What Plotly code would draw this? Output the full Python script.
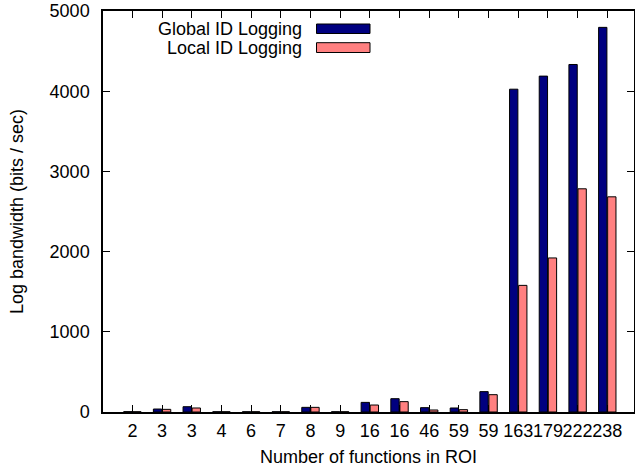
import plotly.graph_objects as go

categories = ["2", "3", "3", "4", "6", "7", "8", "9", "16", "16", "46", "59", "59", "163", "179", "222", "238"]
global_vals = [4, 37, 66, 3, 3, 3, 58, 3, 120, 166, 54, 50, 254, 4025, 4188, 4333, 4796]
local_vals = [3, 33, 50, 3, 3, 3, 58, 3, 87, 129, 25, 29, 216, 1579, 1921, 2783, 2683]
series_names = ["Global ID Logging", "Local ID Logging"]
series_colors = ["#000080", "#ff8080"]
y_ticks = [0, 1000, 2000, 3000, 4000, 5000]

W, H = 635, 472
# target plot area in page pixels: x 103..634, y 11..412
L = 103
T = 11
R = W - 634
B = H - 412
FONT = "Liberation Sans, Arial, Helvetica, sans-serif"
FS = 18

idx = list(range(len(categories)))

fig = go.Figure()
for name, vals, col in zip(series_names, [global_vals, local_vals], series_colors):
    fig.add_trace(go.Bar(
        x=idx, y=vals, name=name,
        marker=dict(color=col, line=dict(color="black", width=1)),
        showlegend=False,
    ))

pw = W - L - R
ph = H - T - B
def px(xp):
    return (xp - L) / pw
def py(yp):
    return (H - B - yp) / ph

# custom gnuplot-style key: right-aligned text with swatch on its right
rows = [(29.5, 24.0, 33.5), (47.5, 42.7, 52.5)]
for (name, col), (yc, y0, y1) in zip(zip(series_names, series_colors), rows):
    fig.add_annotation(
        x=px(304), y=py(yc), xref="paper", yref="paper",
        text=name, showarrow=False, xanchor="right", yanchor="middle",
        font=dict(family=FONT, size=FS, color="black"),
    )
    fig.add_shape(
        type="rect", xref="paper", yref="paper",
        x0=px(316.5), x1=px(370), y0=py(y1), y1=py(y0),
        fillcolor=col, line=dict(color="black", width=1),
    )

fig.update_layout(
    width=W, height=H,
    margin=dict(l=L, r=R, t=T, b=B, pad=0, autoexpand=False),
    paper_bgcolor="white", plot_bgcolor="white",
    barmode="group", bargap=0.39, bargroupgap=0.08,
    font=dict(family=FONT, size=FS, color="black"),
    xaxis=dict(
        range=[-0.99, 16.9], automargin=False,
        tickmode="array", tickvals=idx, ticktext=categories, tickangle=0,
        ticks="inside", ticklen=7, tickwidth=1, tickcolor="black",
        showline=True, linecolor="black", linewidth=1.5, mirror="ticks",
        showgrid=False, zeroline=False,
        tickfont=dict(family=FONT, size=FS),
        ticklabelstandoff=2, ticklabeloverflow="allow",
        title=dict(text="Number of functions in ROI", font=dict(family=FONT, size=FS), standoff=10),
    ),
    yaxis=dict(
        range=[0, 5000], automargin=False,
        tickmode="array", tickvals=y_ticks,
        ticks="inside", ticklen=7, tickwidth=1, tickcolor="black",
        showline=True, linecolor="black", linewidth=1.5, mirror="ticks",
        showgrid=False, zeroline=False,
        tickfont=dict(family=FONT, size=FS),
        ticklabelstandoff=8, ticklabeloverflow="allow",
        title=dict(text="Log bandwidth (bits / sec)", font=dict(family=FONT, size=FS), standoff=21),
    ),
)

fig.write_html(
    "out.html",
    config={"displayModeBar": False},
    post_script="document.body.style.margin='0';document.body.style.overflow='hidden';",
)
